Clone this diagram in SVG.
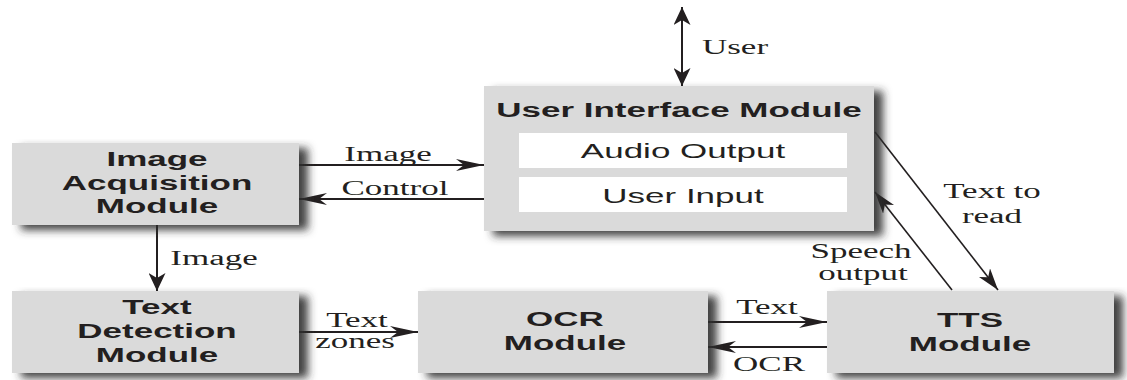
<svg xmlns="http://www.w3.org/2000/svg" width="1127" height="380" viewBox="0 0 1127 380">
  <style>
    .box { fill: #dadada; }
    .inner { fill: #ffffff; }
    .node-title { font-family: "Liberation Sans", Arial, sans-serif; font-weight: bold; font-size: 20px; fill: #231f20; text-anchor: middle; }
    .node-sub { font-family: "Liberation Sans", Arial, sans-serif; font-size: 20px; fill: #231f20; text-anchor: middle; }
    .label { font-family: "Liberation Serif", "Times New Roman", serif; font-size: 20px; fill: #231f20; text-anchor: middle; }
    .wire { stroke: #231f20; stroke-width: 2; fill: none; }
    .wire-thin { stroke: #231f20; stroke-width: 1.6; fill: none; }
  </style>
  <defs>
    <filter id="shadow" x="-10%" y="-10%" width="130%" height="140%">
      <feGaussianBlur in="SourceAlpha" stdDeviation="4.5" result="blur"/>
      <feOffset in="blur" dx="9" dy="5" result="off"/>
      <feFlood flood-color="#2e2e2e" flood-opacity="0.9"/>
      <feComposite in2="off" operator="in" result="shade"/>
      <feMerge>
        <feMergeNode in="shade"/>
        <feMergeNode in="SourceGraphic"/>
      </feMerge>
    </filter>
    <!-- horizontal arrowhead: long and narrow -->
    <marker id="arrow-h" viewBox="0 0 28 12" refX="28" refY="6" markerWidth="28" markerHeight="12" markerUnits="userSpaceOnUse" orient="auto-start-reverse">
      <path d="M0,0 L28,6 L0,12 L8,6 Z" fill="#231f20"/>
    </marker>
    <!-- vertical arrowhead: short and wide -->
    <marker id="arrow-v" viewBox="0 0 18 17" refX="18" refY="8.5" markerWidth="18" markerHeight="17" markerUnits="userSpaceOnUse" orient="auto-start-reverse">
      <path d="M0,0 L18,8.5 L0,17 L5,8.5 Z" fill="#231f20"/>
    </marker>
    <!-- diagonal arrowhead -->
    <marker id="arrow-d" viewBox="0 0 22 14" refX="22" refY="7" markerWidth="22" markerHeight="14" markerUnits="userSpaceOnUse" orient="auto">
      <path d="M0,0 L22,7 L0,14 L6,7 Z" fill="#231f20"/>
    </marker>
  </defs>

  <rect width="1127" height="380" fill="#ffffff"/>

  <g id="connectors">
    <line class="wire" x1="682" y1="7" x2="682" y2="86" marker-start="url(#arrow-v)" marker-end="url(#arrow-v)"/>
    <line class="wire" x1="299" y1="165" x2="484" y2="165" marker-end="url(#arrow-h)"/>
    <line class="wire" x1="484" y1="199" x2="299" y2="199" marker-end="url(#arrow-h)"/>
    <line class="wire" x1="157" y1="225" x2="157" y2="291" marker-end="url(#arrow-v)"/>
    <line class="wire" x1="299" y1="332" x2="418" y2="332" marker-end="url(#arrow-h)"/>
    <line class="wire" x1="708" y1="322" x2="827" y2="322" marker-end="url(#arrow-h)"/>
    <line class="wire" x1="827" y1="347" x2="708" y2="347" marker-end="url(#arrow-h)"/>
    <line class="wire-thin" x1="875" y1="132" x2="998" y2="290" marker-end="url(#arrow-d)"/>
    <line class="wire-thin" x1="952" y1="290" x2="875" y2="192" marker-end="url(#arrow-d)"/>

    <text class="label" transform="translate(735,54) scale(1.75,1)">User</text>
    <text class="label" transform="translate(388,161) scale(1.75,1)">Image</text>
    <text class="label" transform="translate(395,195) scale(1.75,1)">Control</text>
    <text class="label" transform="translate(214,265) scale(1.75,1)">Image</text>
    <text class="label" transform="translate(357,327) scale(1.75,1)">Text</text>
    <text class="label" transform="translate(355,348) scale(1.75,1)">zones</text>
    <text class="label" transform="translate(767,314) scale(1.75,1)">Text</text>
    <text class="label" transform="translate(769,371) scale(1.75,1)">OCR</text>
    <text class="label" transform="translate(992,198) scale(1.75,1)">Text to</text>
    <text class="label" transform="translate(992,223) scale(1.75,1)">read</text>
    <text class="label" transform="translate(861,258) scale(1.75,1)">Speech</text>
    <text class="label" transform="translate(863,280) scale(1.75,1)">output</text>
  </g>

  <g id="image-acquisition">
    <rect class="box" x="12" y="143" width="287" height="82" filter="url(#shadow)"/>
    <text class="node-title" transform="translate(157,166) scale(1.75,1)">Image</text>
    <text class="node-title" transform="translate(157,190) scale(1.75,1)">Acquisition</text>
    <text class="node-title" transform="translate(157,213) scale(1.75,1)">Module</text>
  </g>

  <g id="user-interface">
    <rect class="box" x="484" y="86" width="390" height="145" filter="url(#shadow)"/>
    <text class="node-title" transform="translate(679,117) scale(1.75,1)">User Interface Module</text>
    <rect class="inner" x="519" y="133" width="328" height="35"/>
    <text class="node-sub" transform="translate(683,158) scale(1.75,1)">Audio Output</text>
    <rect class="inner" x="519" y="177" width="328" height="35"/>
    <text class="node-sub" transform="translate(683,203) scale(1.75,1)">User Input</text>
  </g>

  <g id="text-detection">
    <rect class="box" x="12" y="291" width="287" height="82" filter="url(#shadow)"/>
    <text class="node-title" transform="translate(157,314) scale(1.75,1)">Text</text>
    <text class="node-title" transform="translate(157,338) scale(1.75,1)">Detection</text>
    <text class="node-title" transform="translate(157,362) scale(1.75,1)">Module</text>
  </g>

  <g id="ocr">
    <rect class="box" x="418" y="291" width="290" height="82" filter="url(#shadow)"/>
    <text class="node-title" transform="translate(565,326) scale(1.75,1)">OCR</text>
    <text class="node-title" transform="translate(565,350) scale(1.75,1)">Module</text>
  </g>

  <g id="tts">
    <rect class="box" x="827" y="291" width="287" height="82" filter="url(#shadow)"/>
    <text class="node-title" transform="translate(970,327) scale(1.75,1)">TTS</text>
    <text class="node-title" transform="translate(970,351) scale(1.75,1)">Module</text>
  </g>
</svg>
